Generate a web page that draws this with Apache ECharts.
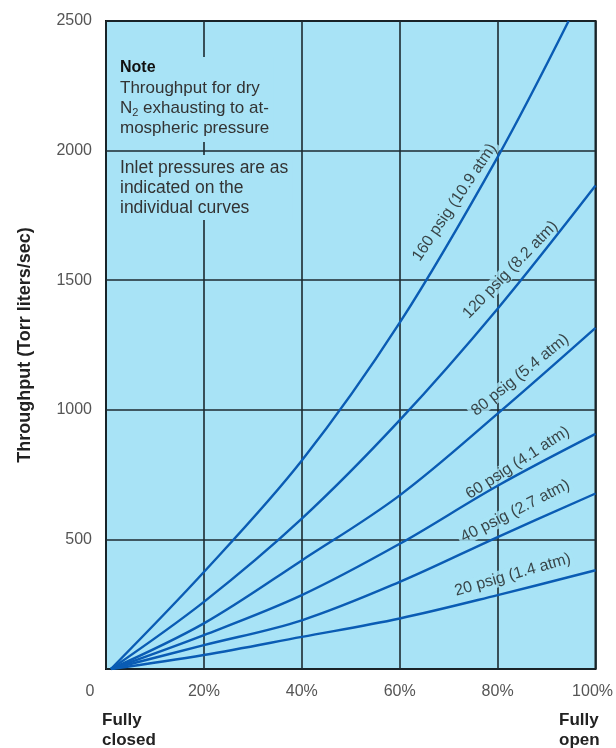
<!DOCTYPE html>
<html>
<head>
<meta charset="utf-8">
<script src="https://cdn.jsdelivr.net/npm/echarts@6/dist/echarts.min.js"></script>
<style>
  html, body { margin: 0; padding: 0; background: #ffffff; }
  #chart { width: 616px; height: 748px; }
</style>
</head>
<body>
<div id="chart"></div>
<script>
// ---- Data ----
const valveOpening = [1, 20, 40, 60, 80, 100]; // % open
const psig160 = [0, 374, 804, 1336, 1975];       // reaches 2500 at ~94.5%
const psig160Top = [94.5, 2500];
const psig120 = [0, 259, 580, 960, 1390, 1865];
const psig80  = [0, 176, 419, 670, 985, 1316];
const psig60  = [0, 131, 285, 483, 707, 907];
const psig40  = [0, 92, 188, 336, 509, 677];
const psig20  = [0, 54, 124, 195, 285, 381];

const curveNames = ['160 psig (10.9 atm)', '120 psig (8.2 atm)', '80 psig (5.4 atm)',
                    '60 psig (4.1 atm)', '40 psig (2.7 atm)', '20 psig (1.4 atm)'];
// label anchor (x %, y throughput) for each curve name
const labelX = [71.2, 82.6, 84.6, 84.1, 83.6, 83.1];
const labelY = [1800, 1540, 1134, 795, 609, 363];

const yTicks = [0, 500, 1000, 1500, 2000, 2500];
const xTicks = [0, 20, 40, 60, 80, 100];

// ---- Styles ----
const labelAngles = [56, 46, 39, 33, 27, 16];
const FILL = '#a8e3f6';
const CURVE = '#0a5cb4';
const FONT = 'Liberation Sans, Arial, sans-serif';

function pairs(xs, ys) { return ys.map((y, i) => [xs[i], y]); }

const curves = [
  pairs(valveOpening, psig160).concat([psig160Top]),
  pairs(valveOpening, psig120),
  pairs(valveOpening, psig80),
  pairs(valveOpening, psig60),
  pairs(valveOpening, psig40),
  pairs(valveOpening, psig20)
];

const series = curves.map((d, i) => ({
  name: curveNames[i],
  type: 'line',
  data: d,
  smooth: 0.35,
  showSymbol: false,
  symbol: 'none',
  clip: true,
  lineStyle: { color: CURVE, width: 2.4 },
  z: 4
}));

series.push({
  type: 'scatter',
  symbolSize: 0,
  z: 2,
  data: curveNames.map((n, i) => ({
    value: [labelX[i], labelY[i]],
    name: n,
    label: { rotate: labelAngles[i] }
  })),
  label: {
    show: true,
    position: 'inside',
    formatter: p => p.name,
    color: '#1a1a1a',
    fontFamily: FONT,
    fontSize: 16,
    backgroundColor: FILL,
    padding: [0, 3]
  },
  silent: true
});

const chart = echarts.init(document.getElementById('chart'), null, { renderer: 'canvas' });
chart.setOption({
  animation: false,
  backgroundColor: '#ffffff',
  grid: {
    left: 106, right: 18, top: 21, bottom: 79,
    show: true,
    backgroundColor: FILL,
    borderColor: '#111',
    borderWidth: 2
  },
  xAxis: {
    type: 'value',
    min: xTicks[0], max: xTicks[xTicks.length - 1], interval: 20,
    axisLine: { show: false },
    axisTick: { show: false },
    splitLine: { show: true, lineStyle: { color: '#1c2a30', width: 1.6 } },
    axisLabel: {
      margin: 15,
      color: '#555',
      fontFamily: FONT,
      fontSize: 16,
      formatter: v => v === 0 ? '{z|0}' : (v === 100 ? '{e|100%}' : v + '%'),
      rich: {
        z: { color: '#555', fontFamily: FONT, fontSize: 16, padding: [0, 32, 0, 0] },
        e: { color: '#555', fontFamily: FONT, fontSize: 16, padding: [0, 6, 0, 0] }
      }
    }
  },
  yAxis: {
    type: 'value',
    min: yTicks[0], max: yTicks[yTicks.length - 1], interval: 500,
    name: 'Throughput (Torr liters/sec)',
    nameLocation: 'middle',
    nameGap: 72,
    nameTextStyle: { fontFamily: FONT, fontSize: 18, fontWeight: 'bold', color: '#222' },
    axisLine: { show: false },
    axisTick: { show: false },
    splitLine: { show: true, lineStyle: { color: '#1c2a30', width: 1.6 } },
    axisLabel: {
      margin: 14,
      color: '#555',
      fontFamily: FONT,
      fontSize: 16,
      formatter: v => v === 0 ? '' : String(v)
    }
  },
  graphic: [
    {
      type: 'text', left: 116, top: 57, z: 100,
      style: {
        text: '{b|Note}\nThroughput for dry\nN{s|2} exhausting to at-\nmospheric pressure',
        fontFamily: FONT, fontSize: 17, fill: '#333', lineHeight: 20,
        backgroundColor: FILL, padding: [1, 4, 4, 4],
        rich: {
          b: { fontFamily: FONT, fontSize: 16, fontWeight: 'bold', fill: '#111', lineHeight: 20 },
          s: { fontFamily: FONT, fontSize: 11, fill: '#333', padding: [9, 0, 0, 0], lineHeight: 20 }
        }
      }
    },
    {
      type: 'text', left: 116, top: 155, z: 100,
      style: {
        text: 'Inlet pressures are as\nindicated on the\nindividual curves',
        fontFamily: FONT, fontSize: 17.5, fill: '#333', lineHeight: 20,
        backgroundColor: FILL, padding: [3, 4, 2, 4]
      }
    },
    {
      type: 'text', left: 102, top: 711, z: 100,
      style: { text: 'Fully\nclosed', fontFamily: FONT, fontSize: 17, fontWeight: 'bold', fill: '#222', lineHeight: 19.5 }
    },
    {
      type: 'text', left: 559, top: 711, z: 100,
      style: { text: 'Fully\nopen', fontFamily: FONT, fontSize: 17, fontWeight: 'bold', fill: '#222', lineHeight: 19.5 }
    }
  ],
  series: series
});
</script>
</body>
</html>
